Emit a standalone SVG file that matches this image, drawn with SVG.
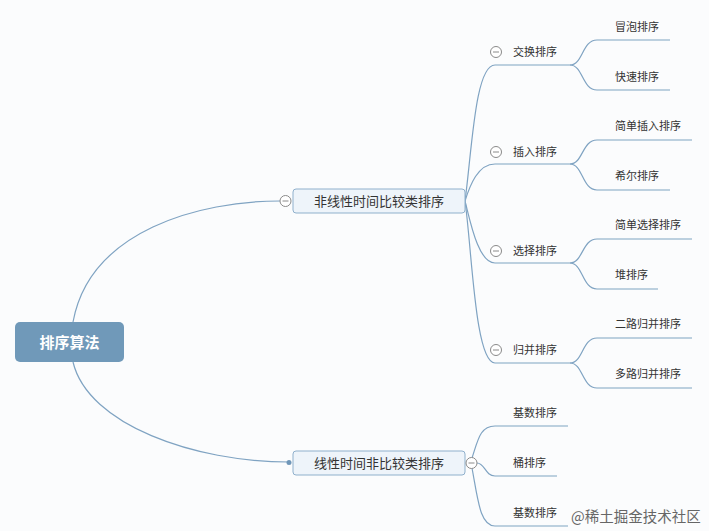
<svg xmlns="http://www.w3.org/2000/svg" width="709" height="531" viewBox="0 0 709 531">
<style>
.bg{fill:#fbfcfd}
.ln{fill:none;stroke:#7fa3c2;stroke-width:1.2}
.root{fill:#7099b9}
.rt{font-family:"Noto Sans CJK SC","Liberation Sans",sans-serif;font-size:15px;font-weight:bold;fill:#ffffff}
.n1{fill:#eef4fa;stroke:#8fb0cc;stroke-width:1}
.t1{font-family:"Noto Sans CJK SC","Liberation Sans",sans-serif;font-size:13px;fill:#333333}
.t2{font-family:"Noto Sans CJK SC","Liberation Sans",sans-serif;font-size:11px;fill:#333333}
.col circle{fill:#ffffff;stroke:#8a8a8a;stroke-width:1}
.col line{stroke:#8a8a8a;stroke-width:1}
.wm{font-family:"Noto Sans CJK SC","Liberation Sans",sans-serif;font-size:14.5px;fill:#666666}
</style>
<defs>
<g id="minus" class="col"><circle cx="0" cy="0" r="5.5"/><line x1="-3" y1="0" x2="3" y2="0"/></g>
</defs>
<rect class="bg" x="0" y="0" width="709" height="531"/>
<g id="connectors">
<path class="ln" d="M73,322 C90,230 200,201 280,201"/>
<path class="ln" d="M73,362 C88,425 195,462 289,462"/>
<path class="ln" d="M465,201 C472,150 475,65 495,65 L570,65"/>
<path class="ln" d="M465,201 C470,185 478,164 495,164 L570,164"/>
<path class="ln" d="M465,201 C470,220 478,263 495,263 L570,263"/>
<path class="ln" d="M465,201 C472,250 475,363 495,363 L570,363"/>
<path class="ln" d="M570,65 C583,65 582,40 597,40 L670,40"/>
<path class="ln" d="M570,65 C583,65 582,90 597,90 L670,90"/>
<path class="ln" d="M570,164 C583,164 582,140 597,140 L692,140"/>
<path class="ln" d="M570,164 C583,164 582,190 597,190 L670,190"/>
<path class="ln" d="M570,263 C583,263 582,239 597,239 L692,239"/>
<path class="ln" d="M570,263 C583,263 582,289 597,289 L658,289"/>
<path class="ln" d="M570,363 C583,363 582,338 597,338 L692,338"/>
<path class="ln" d="M570,363 C583,363 582,388 597,388 L692,388"/>
<path class="ln" d="M472,458 C478,440 480,426 495,426 L568,426"/>
<path class="ln" d="M477,463 C485,463 485,476 495,476 L557,476"/>
<path class="ln" d="M472,468 C478,500 480,526 495,526 L568,526"/>
<circle cx="289" cy="462.5" r="2.5" fill="#6f96b8"/>
</g>
<g id="root">
<rect class="root" x="15" y="322" width="109" height="40" rx="5"/>
<text class="rt" x="69.5" y="347.5" text-anchor="middle">排序算法</text>
</g>
<g id="n-nonlinear">
<rect class="n1" x="293" y="189" width="172" height="24" rx="3"/>
<text class="t1" x="379" y="205.5" text-anchor="middle">非线性时间比较类排序</text>
<use href="#minus" x="285.5" y="201"/>
</g>
<g id="n-linear">
<rect class="n1" x="293" y="451" width="172" height="24" rx="3"/>
<text class="t1" x="379" y="467.5" text-anchor="middle">线性时间非比较类排序</text>
<use href="#minus" x="471.5" y="463"/>
</g>
<g id="n-swap"><use href="#minus" x="496" y="52"/><text class="t2" x="513" y="56">交换排序</text></g>
<g id="n-insert"><use href="#minus" x="496" y="152"/><text class="t2" x="513" y="156">插入排序</text></g>
<g id="n-select"><use href="#minus" x="496" y="251"/><text class="t2" x="513" y="255">选择排序</text></g>
<g id="n-merge"><use href="#minus" x="496" y="350"/><text class="t2" x="513" y="354">归并排序</text></g>
<g id="n-bubble"><text class="t2" x="615" y="31">冒泡排序</text></g>
<g id="n-quick"><text class="t2" x="615" y="81">快速排序</text></g>
<g id="n-sinsert"><text class="t2" x="615" y="130">简单插入排序</text></g>
<g id="n-shell"><text class="t2" x="615" y="180">希尔排序</text></g>
<g id="n-sselect"><text class="t2" x="615" y="229">简单选择排序</text></g>
<g id="n-heap"><text class="t2" x="615" y="279">堆排序</text></g>
<g id="n-2merge"><text class="t2" x="615" y="328">二路归并排序</text></g>
<g id="n-mmerge"><text class="t2" x="615" y="378">多路归并排序</text></g>
<g id="n-radix"><text class="t2" x="513" y="417">基数排序</text></g>
<g id="n-bucket"><text class="t2" x="513" y="467">桶排序</text></g>
<g id="n-radix2"><text class="t2" x="513" y="517">基数排序</text></g>
<text class="wm" x="571" y="522">@稀土掘金技术社区</text>
</svg>
